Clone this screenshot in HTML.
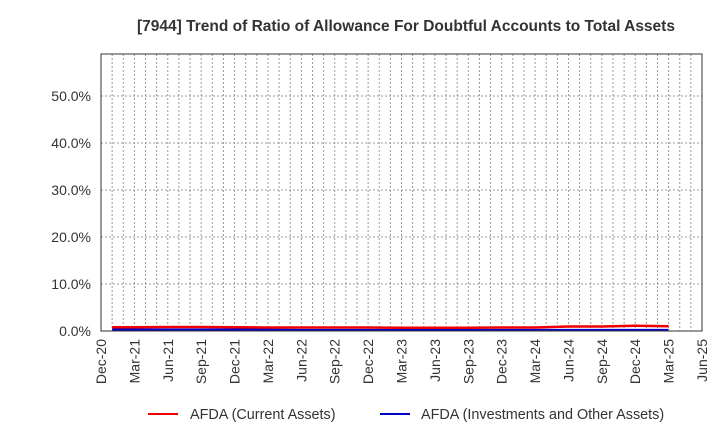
<!DOCTYPE html>
<html><head><meta charset="utf-8"><style>
body{margin:0;background:#fff;font-family:"Liberation Sans",Arial,sans-serif;}
svg text{font-family:"Liberation Sans",Arial,sans-serif;}
</style></head><body>
<svg id="chart" width="720" height="440" xmlns="http://www.w3.org/2000/svg">
<text x="406" y="31" text-anchor="middle" font-size="15.5" font-weight="bold" fill="#333">[7944]  Trend of Ratio of Allowance For Doubtful Accounts to Total Assets</text>
<g id="grid"></g>
<g id="series"></g>
<rect x="101" y="54" width="601" height="277" fill="none" stroke="#333" stroke-width="1"/>
<g id="axes"></g>
<g>
<line x1="148" y1="414" x2="178" y2="414" stroke="#e00" stroke-width="2"/>
<text x="190" y="419" font-size="14.4" fill="#333">AFDA (Current Assets)</text>
<line x1="380" y1="414" x2="410" y2="414" stroke="#00c" stroke-width="2"/>
<text x="421" y="419" font-size="14.4" fill="#333">AFDA (Investments and Other Assets)</text>
</g>
</svg>
<script>
const tickLabels=["Dec-20","Mar-21","Jun-21","Sep-21","Dec-21","Mar-22","Jun-22","Sep-22","Dec-22","Mar-23","Jun-23","Sep-23","Dec-23","Mar-24","Jun-24","Sep-24","Dec-24","Mar-25","Jun-25"];
const yTicks=[0,10,20,30,40,50];
const monthOffsets=[1,3,6,9,12,15,18,21,24,27,30,33,36,39,42,45,48,51];
const currentAssets=[0.8,0.8,0.85,0.85,0.8,0.75,0.75,0.75,0.75,0.7,0.7,0.7,0.75,0.75,0.95,0.95,1.1,1.0];
const investments=[0.25,0.25,0.25,0.25,0.25,0.25,0.2,0.2,0.2,0.2,0.2,0.2,0.2,0.2,0.2,0.2,0.2,0.2];
const NS="http://www.w3.org/2000/svg";
const x0=101,x1=702,y0=331,yTop=54,totalMonths=54;
const xs=m=>x0+(x1-x0)*m/totalMonths;
const ys=v=>y0-v*4.7;
const grid=document.getElementById('grid'),axes=document.getElementById('axes'),series=document.getElementById('series');
function mk(tag,attrs,parent){const e=document.createElementNS(NS,tag);for(const k in attrs)e.setAttribute(k,attrs[k]);parent.appendChild(e);return e;}
for(let m=1;m<totalMonths;m++){
 const l=mk('line',{x1:xs(m),x2:xs(m),y1:yTop,y2:y0,stroke:'#999','stroke-dasharray':'2,2','stroke-width':1},grid);
 
 
}
yTicks.forEach(v=>{
 if(v>0){const l=mk('line',{x1:x0,x2:x1,y1:ys(v),y2:ys(v),stroke:'#999','stroke-dasharray':'2,2','stroke-width':1},grid);
 
 }
 const t=mk('text',{x:x0-10,y:ys(v)+5,'text-anchor':'end','font-size':14,fill:'#333'},axes);
 t.textContent=v.toFixed(1)+'%';
 
 
});
tickLabels.forEach((s,i)=>{
 const x=xs(i*3);
 const t=mk('text',{x:0,y:0,'text-anchor':'end','font-size':14,fill:'#333',transform:`translate(${x+5},${y0+8}) rotate(-90)`},axes);
 t.textContent=s;
 
 
});
function line(vals,color,name){
 const d=vals.map((v,i)=>(i?'L':'M')+xs(monthOffsets[i]).toFixed(1)+','+ys(v).toFixed(1)).join(' ');
 const p=mk('path',{d:d,fill:'none',stroke:color,'stroke-width':2.5},series);
 
 
}
line(investments,'#00c','series-investments');
line(currentAssets,'#e00','series-current-assets');
</script>
</body></html>
